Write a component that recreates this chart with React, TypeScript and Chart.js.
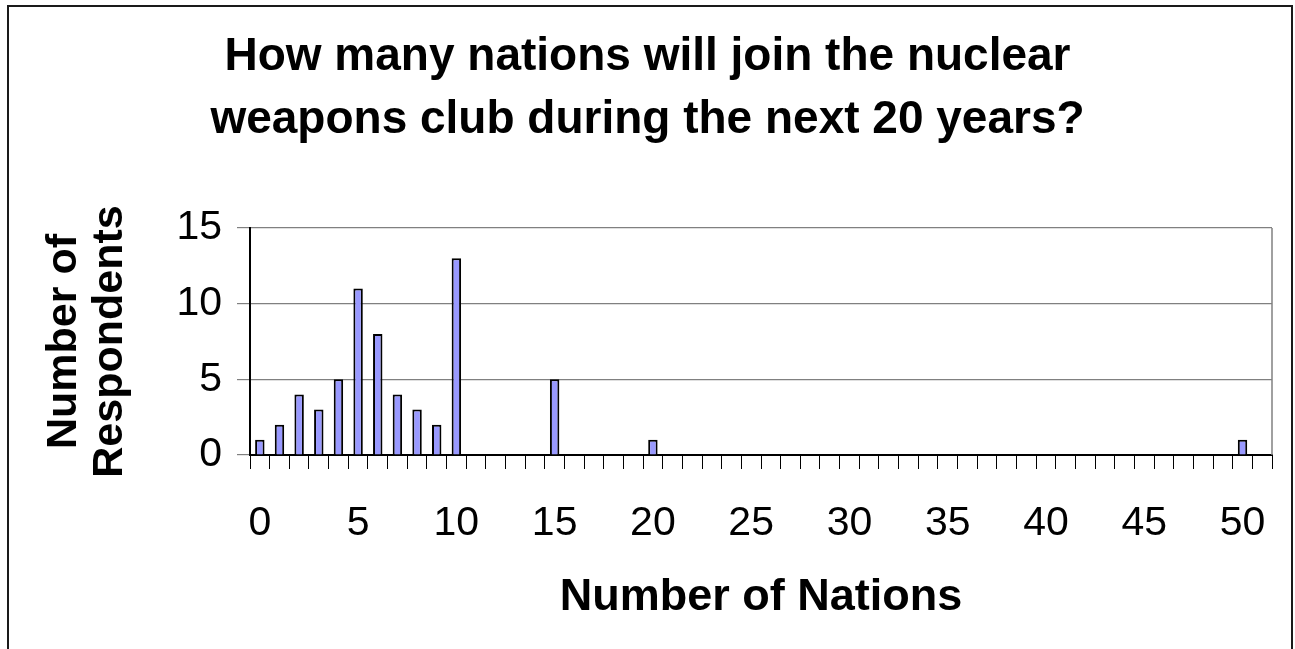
import React, { useEffect, useRef } from "react";
import { Chart, registerables } from "chart.js";

Chart.register(...registerables);

const titleLines = ["How many nations will join the nuclear", "weapons club during the next 20 years?"];
const xTitle = "Number of Nations";
const yTitleLines = ["Number of", "Respondents"];

const categories = [
  "0", "1", "2", "3", "4", "5", "6", "7", "8", "9",
  "10", "11", "12", "13", "14", "15", "16", "17", "18", "19",
  "20", "21", "22", "23", "24", "25", "26", "27", "28", "29",
  "30", "31", "32", "33", "34", "35", "36", "37", "38", "39",
  "40", "41", "42", "43", "44", "45", "46", "47", "48", "49",
  "50", "51",
];

const respondents = [
  1, 2, 4, 3, 5, 11, 8, 4, 3, 2,
  13, null, null, null, null, 5, null, null, null, null,
  1, null, null, null, null, null, null, null, null, null,
  null, null, null, null, null, null, null, null, null, null,
  null, null, null, null, null, null, null, null, null, null,
  1, null,
];

const xTickLabels = ["0", "5", "10", "15", "20", "25", "30", "35", "40", "45", "50"];
const yTicks = [0, 5, 10, 15];

const FONT = 'Arial, "Liberation Sans", sans-serif';

const framePlugin = {
  id: "frame",
  afterDraw(chart: any) {
    const { ctx, chartArea } = chart;
    ctx.save();
    ctx.strokeStyle = "#808080";
    ctx.lineWidth = 1.5;
    ctx.beginPath();
    ctx.moveTo(chartArea.right, chartArea.top);
    ctx.lineTo(chartArea.right, chartArea.bottom);
    ctx.stroke();
    ctx.strokeStyle = "#1a1a1a";
    ctx.lineWidth = 2;
    ctx.beginPath();
    ctx.moveTo(8, 700);
    ctx.lineTo(8, 6);
    ctx.lineTo(1292, 6);
    ctx.lineTo(1292, 700);
    ctx.stroke();
    ctx.restore();
  },
};

export default function App() {
  const ref = useRef<HTMLCanvasElement | null>(null);

  useEffect(() => {
    if (!ref.current) return;
    const chart = new Chart(ref.current, {
      type: "bar",
      data: {
        labels: categories,
        datasets: [
          {
            data: respondents as any,
            backgroundColor: "#9999FF",
            borderColor: "#000000",
            borderWidth: 2,
            borderSkipped: "bottom",
            barPercentage: 0.48,
            categoryPercentage: 1,
          },
        ],
      },
      options: {
        responsive: false,
        animation: false,
        devicePixelRatio: 1,
        layout: { padding: { left: 0, right: 0, top: 0, bottom: 0 } },
        plugins: {
          legend: { display: false },
          tooltip: { enabled: false },
          title: {
            display: true,
            text: titleLines,
            color: "#000",
            font: { family: FONT, size: 46, weight: "bold", lineHeight: 1.37 },
            padding: { top: 26, bottom: 76 },
          },
        },
        scales: {
          x: {
            type: "category",
            offset: true,
            afterFit: (scale: any) => {
              scale.height = 194;
            },
            border: { display: true, color: "#000", width: 2 },
            grid: {
              display: true,
              offset: true,
              drawOnChartArea: false,
              drawTicks: true,
              tickLength: 14,
              color: "#000",
              lineWidth: 1,
            },
            ticks: {
              autoSkip: false,
              maxRotation: 0,
              minRotation: 0,
              padding: 30,
              color: "#000",
              font: { family: FONT, size: 41 },
              callback: (_v: any, index: number) =>
                xTickLabels.includes(categories[index]) ? categories[index] : "",
            },
            title: {
              display: true,
              text: xTitle,
              color: "#000",
              font: { family: FONT, size: 45, weight: "bold", lineHeight: 1.2 },
              padding: { top: 0, bottom: 24 },
            },
          },
          y: {
            min: yTicks[0],
            max: yTicks[yTicks.length - 1],
            afterFit: (scale: any) => {
              scale.width = 250;
            },
            afterBuildTicks: (scale: any) => {
              scale.ticks = yTicks.map((v) => ({ value: v }));
            },
            border: { display: true, color: "#000", width: 2 },
            grid: {
              display: true,
              drawOnChartArea: true,
              drawTicks: true,
              tickLength: 13,
              color: "#808080",
              lineWidth: 1.2,
            },
            ticks: {
              padding: 15,
              color: "#000",
              font: { family: FONT, size: 41 },
            },
            title: {
              display: true,
              text: yTitleLines,
              color: "#000",
              font: { family: FONT, size: 43, weight: "bold", lineHeight: 1.05 },
              padding: { top: 42, bottom: 0 },
            },
          },
          rightSpace: {
            type: "linear",
            position: "right",
            display: true,
            min: 0,
            max: 1,
            afterFit: (scale: any) => {
              scale.width = 23;
            },
            border: { display: false },
            grid: { display: false, drawTicks: false },
            ticks: { display: false },
            title: { display: false },
          },
        },
      },
      plugins: [framePlugin],
    } as any);
    return () => chart.destroy();
  }, []);

  return (
    <div style={{ position: "fixed", left: 0, top: 0, width: 1295, height: 649, background: "#fff" }}>
      <canvas ref={ref} width={1295} height={649} style={{ display: "block" }} />
    </div>
  );
}
